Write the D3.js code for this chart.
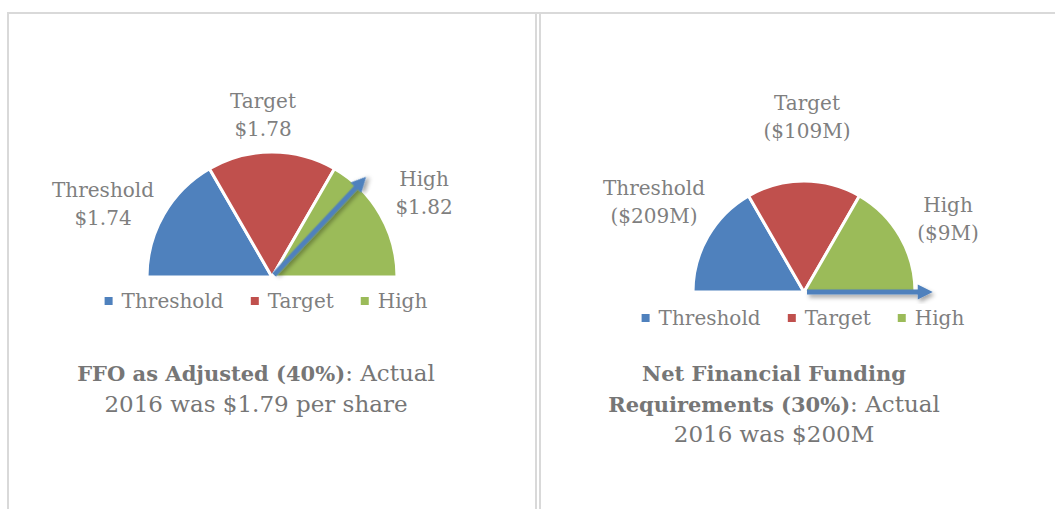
<!DOCTYPE html>
<html>
<head>
<meta charset="utf-8">
<script src="https://cdn.jsdelivr.net/npm/d3@7"></script>
<style>
  body { margin: 0; background: #fff; }
  svg { display: block; }
  text { font-family: "DejaVu Serif", "Liberation Serif", serif; }
</style>
</head>
<body>
<div id="chart"></div>
<script>
// gauge bands (equal thirds of the half circle)
const categories = ["Threshold", "Target", "High"];
const bandValues = [1, 1, 1];
const colors = ["#4F81BD", "#C0504D", "#9BBB59"];

// band value labels for each gauge
const ffoLabels = ["$1.74", "$1.78", "$1.82"];
const nffrLabels = ["($209M)", "($109M)", "($9M)"];

// where the arrow points, in band units (0 = left end, 3 = right end)
const ffoNeedle = 2.22;
const nffrNeedle = 3.0;

// title text under each gauge
const ffoTitle = [
  [{ t: "FFO as Adjusted (40%)", b: true }, { t: ": Actual", b: false }],
  [{ t: "2016 was $1.79 per share", b: false }]
];
const nffrTitle = [
  [{ t: "Net Financial Funding", b: true }],
  [{ t: "Requirements (30%)", b: true }, { t: ": Actual", b: false }],
  [{ t: "2016 was $200M", b: false }]
];

const W = 1055, H = 509;
const textColor = "#7f7f7f";

const svg = d3.select("#chart").append("svg")
  .attr("width", W)
  .attr("height", H);

// arrow shadow
svg.append("defs").append("filter")
  .attr("id", "shadow")
  .attr("x", "-20%").attr("y", "-20%")
  .attr("width", "150%").attr("height", "150%")
  .append("feDropShadow")
  .attr("dx", 2).attr("dy", 3)
  .attr("stdDeviation", 2)
  .attr("flood-color", "#000")
  .attr("flood-opacity", 0.35);

// panel borders
const borders = svg.append("g")
  .attr("stroke", "#d9d9d9")
  .attr("stroke-width", 2);
borders.append("line").attr("x1", 7).attr("x2", W).attr("y1", 13).attr("y2", 13);
borders.append("line").attr("x1", 8).attr("x2", 8).attr("y1", 12).attr("y2", H);
borders.append("line").attr("x1", 536).attr("x2", 536).attr("y1", 12).attr("y2", H);
borders.append("line").attr("x1", 540).attr("x2", 540).attr("y1", 12).attr("y2", H);

const charts = [
  {
    cx: 272, cy: 277, r: 125,
    labels: ffoLabels,
    needle: ffoNeedle, needleLen: 1.1,
    labelPos: [[-169, -80], [-9, -169], [152, -91]],
    legendY: 308, legendShift: -6,
    title: ffoTitle, titleX: 256, titleY: 381
  },
  {
    cx: 804, cy: 292, r: 111,
    labels: nffrLabels,
    needle: nffrNeedle, needleLen: 1.16,
    labelPos: [[-150, -97], [3, -182], [144, -80]],
    legendY: 325, legendShift: -1,
    title: nffrTitle, titleX: 774, titleY: 381
  }
];

const pie = d3.pie()
  .sort(null)
  .startAngle(-Math.PI / 2)
  .endAngle(Math.PI / 2);

const angle = d3.scaleLinear()
  .domain([0, d3.sum(bandValues)])
  .range([-90, 90]);

charts.forEach(c => drawGauge(c));

function drawGauge(c) {
  const g = svg.append("g")
    .attr("transform", `translate(${c.cx},${c.cy})`);

  const arc = d3.arc().innerRadius(0).outerRadius(c.r);

  g.selectAll("path.band")
    .data(pie(bandValues))
    .enter()
    .append("path")
    .attr("class", "band")
    .attr("d", arc)
    .attr("fill", (d, i) => colors[i])
    .attr("stroke", "#fff")
    .attr("stroke-width", 3)
    .attr("stroke-linejoin", "round");

  // band labels, two lines each
  const lab = g.selectAll("text.band-label")
    .data(categories)
    .enter()
    .append("text")
    .attr("class", "band-label")
    .attr("text-anchor", "middle")
    .attr("fill", textColor)
    .style("font-size", "20px")
    .attr("transform", (d, i) => `translate(${c.labelPos[i][0]},${c.labelPos[i][1]})`);
  lab.append("tspan").attr("x", 0).attr("y", 0).text(d => d);
  lab.append("tspan").attr("x", 0).attr("y", 28).text((d, i) => c.labels[i]);

  // arrow
  const len = c.r * c.needleLen;
  const arrow = g.append("g")
    .attr("filter", "url(#shadow)")
    .attr("transform", `rotate(${angle(c.needle) - 90})`);
  arrow.append("rect")
    .attr("x", 3).attr("y", -2.5)
    .attr("width", len - 16).attr("height", 5)
    .attr("fill", "#4F81BD");
  arrow.append("path")
    .attr("d", `M${len - 15},-7.5L${len},0L${len - 15},7.5Z`)
    .attr("fill", "#4F81BD");

  // legend
  const legend = svg.append("g");
  const items = legend.selectAll("g")
    .data(categories)
    .enter()
    .append("g");
  items.append("rect")
    .attr("y", c.legendY - 11)
    .attr("width", 8).attr("height", 8)
    .attr("fill", (d, i) => colors[i]);
  items.append("text")
    .attr("x", 17)
    .attr("y", c.legendY)
    .attr("fill", textColor)
    .style("font-size", "20px")
    .text(d => d);
  let x = 0;
  items.each(function () {
    d3.select(this).attr("transform", `translate(${x},0)`);
    x += this.getBBox().width + 27;
  });
  const total = x - 27;
  legend.attr("transform", `translate(${c.cx + c.legendShift - total / 2},0)`);

  // title under the gauge
  const title = svg.append("text")
    .attr("text-anchor", "middle")
    .attr("fill", "#767676");
  c.title.forEach((line, li) => {
    line.forEach((seg, si) => {
      const ts = title.append("tspan")
        .style("font-weight", seg.b ? "bold" : "normal")
        .style("font-size", seg.b ? "21px" : "23px")
        .text(seg.t);
      if (si === 0) ts.attr("x", c.titleX).attr("y", c.titleY + li * 30.5);
    });
  });
}
</script>
</body>
</html>
